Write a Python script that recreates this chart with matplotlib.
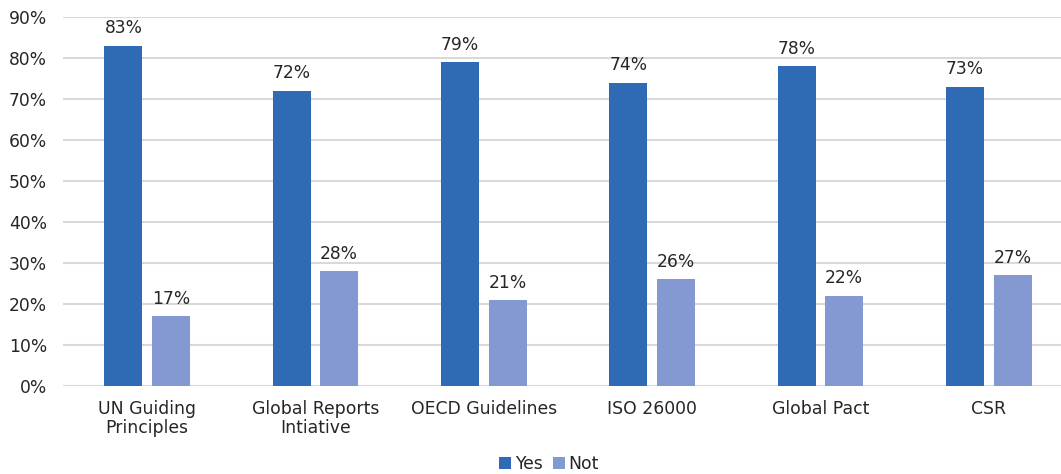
import matplotlib
matplotlib.use("Agg")
import matplotlib.pyplot as plt
import numpy as np

categories = ["UN Guiding\nPrinciples", "Global Reports\nIntiative", "OECD Guidelines", "ISO 26000", "Global Pact", "CSR"]
yes_values = [83, 72, 79, 74, 78, 73]
not_values = [17, 28, 21, 26, 22, 27]
series_names = ["Yes", "Not"]
yticks = [0, 10, 20, 30, 40, 50, 60, 70, 80, 90]

plt.rcParams['font.family'] = ['DejaVu Sans']
fig = plt.figure(figsize=(10.61, 4.74), dpi=100)
ax = fig.add_axes([63/1061, (474-386)/474, 1010/1061, (386-17)/474])

x = np.arange(len(categories))
w = 0.226
off = 0.141
c_yes = "#2F6AB5"
c_not = "#8499D2"
txt = "#262626"
b1 = ax.bar(x - off, yes_values, w, color=c_yes, label=series_names[0], zorder=3)
b2 = ax.bar(x + off, not_values, w, color=c_not, label=series_names[1], zorder=3)

for bars in (b1, b2):
    for r in bars:
        ax.annotate(f"{int(r.get_height())}%", (r.get_x() + r.get_width()/2, r.get_height()),
                    xytext=(0, 6), textcoords="offset points", ha="center", va="bottom",
                    fontsize=12.3, color=txt)

ax.set_xlim(-0.5, len(categories) - 0.5)
ax.set_ylim(0, 90)
ax.set_yticks(yticks)
ax.set_yticklabels([f"{v}%" for v in yticks], fontsize=12.3, color=txt)
ax.set_xticks(x)
ax.set_xticklabels(categories, fontsize=12.4, color=txt, linespacing=1.1)
ax.tick_params(axis="y", length=0, pad=11.5)
ax.tick_params(axis="x", length=0, pad=10)
ax.grid(axis="y", color="#d9d9d9", linewidth=1.5, zorder=0)
ax.set_axisbelow(True)
for s in ax.spines.values():
    s.set_visible(False)

fig.legend(handles=[b1, b2], labels=series_names, loc="lower center", bbox_to_anchor=(549/1061, -0.03),
           ncol=2, frameon=False, fontsize=12.4, handlelength=0.7, handleheight=0.7,
           handletextpad=0.2, columnspacing=0.6, labelcolor=txt)

fig.savefig("out.png", dpi=100)
